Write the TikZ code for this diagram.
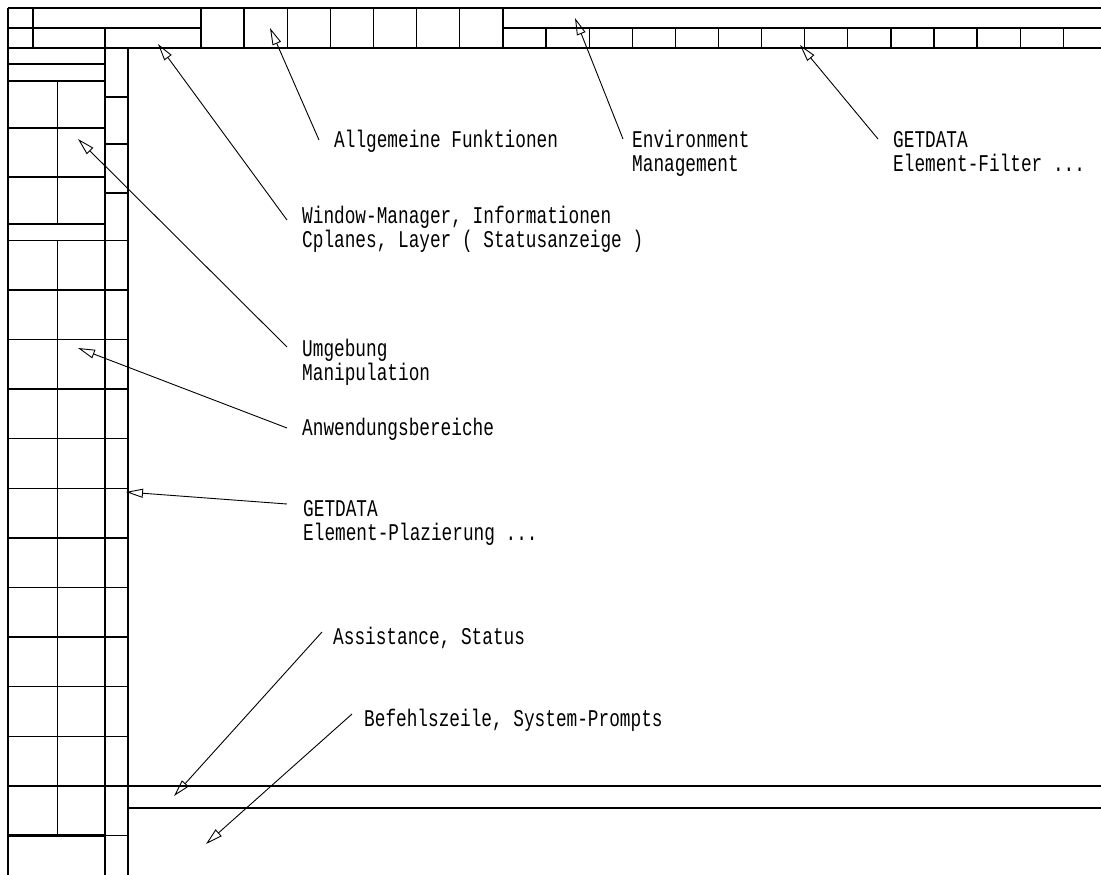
\documentclass[tikz,border=0pt]{standalone}
\usepackage{fontspec}
\newfontfamily\cadfont[FakeStretch=0.74]{Liberation Mono}
\usetikzlibrary{arrows.meta}
\tikzset{>={Triangle[open,length=17pt,width=9pt]}}
\tikzset{
  rahmen/.style={line width=2.2pt},
  feld/.style={line width=1.3pt},
  duenn/.style={line width=0.9pt},
  txt/.style={anchor=base west, inner sep=0pt, align=left,
    font=\cadfont\fontsize{24pt}{24pt}\selectfont},
  pfeil/.style={->, line width=0.9pt}
}

\begin{document}
\begin{tikzpicture}[x=1pt, y=-1pt]
    \useasboundingbox (0,0) rectangle (1101,875);

    % Kopfleiste
    \draw[rahmen] (8,8) -- (1101,8);
    \draw[rahmen] (8,48) -- (1101,48);
    \draw[feld] (8,28) -- (201,28);
    \draw[rahmen] (503,28) -- (1101,28);
    \draw[feld] (33,8) -- (33,48);
    \draw[feld] (105,28) -- (105,48);
    \draw[rahmen] (201,8) -- (201,48);
    \draw[rahmen] (503,8) -- (503,48);
    \draw[feld] (244.1,8) -- (244.1,48) (287.2,8) -- (287.2,48)
        (330.3,8) -- (330.3,48) (373.4,8) -- (373.4,48)
        (416.5,8) -- (416.5,48) (459.6,8) -- (459.6,48);
    \draw[feld] (546.1,28) -- (546.1,48) (589.2,28) -- (589.2,48)
        (632.3,28) -- (632.3,48) (675.4,28) -- (675.4,48)
        (718.5,28) -- (718.5,48) (761.6,28) -- (761.6,48)
        (804.7,28) -- (804.7,48) (847.8,28) -- (847.8,48)
        (890.9,28) -- (890.9,48) (934,28) -- (934,48)
        (977.1,28) -- (977.1,48) (1020.2,28) -- (1020.2,48)
        (1063.3,28) -- (1063.3,48);

    % linke Spalte
    \draw[rahmen] (8,8) -- (8,875);
    \draw[rahmen] (105,48) -- (105,875);
    \draw[rahmen] (128,48) -- (128,875);
    \draw[feld] (8,64) -- (105,64) (8,81) -- (105,81)
        (8,128) -- (105,128) (8,177) -- (105,177);
    \draw[rahmen] (8,224) -- (105,224);
    \draw[feld] (105,97) -- (128,97) (105,144) -- (128,144)
        (105,193) -- (128,193);
    \draw[duenn] (57,81) -- (57,224);
    \draw[duenn] (57,240) -- (57,836);
    \draw[feld] (8,240.3) -- (128,240.3) (8,289.9) -- (128,289.9)
        (8,339.5) -- (128,339.5) (8,389.1) -- (128,389.1)
        (8,438.7) -- (128,438.7) (8,488.3) -- (128,488.3)
        (8,537.9) -- (128,537.9) (8,587.5) -- (128,587.5)
        (8,637.1) -- (128,637.1) (8,686.7) -- (128,686.7)
        (8,736.3) -- (128,736.3) (8,785.9) -- (128,785.9);
    \draw[rahmen] (8,835.5) -- (105,835.5);
    \draw[duenn] (105,835.5) -- (128,835.5);

    % Befehlsbereich unten
    \draw[rahmen] (128,786) -- (1101,786);
    \draw[rahmen] (128,808) -- (1101,808);

    % Pfeilspitzen
    \coordinate (tFunk) at (270,28);
    \coordinate (tEnv) at (575,18);
    \coordinate (tFilter) at (800,45);
    \coordinate (tWin) at (158,44);
    \coordinate (tUmg) at (78,139);
    \coordinate (tAnw) at (78,348);
    \coordinate (tPlaz) at (126,492);
    \coordinate (tAssist) at (174,796);
    \coordinate (tBefehl) at (206,844);

    % Beschriftungen (base = letzte Zeile)
    \node[txt] (funk) at (334,147) {Allgemeine Funktionen};
    \node[txt] (env) at (632,171.5) {Environment\\Management};
    \node[txt] (filter) at (893,171.5) {GETDATA\\Element-Filter ...};
    \node[txt] (win) at (302,247.5) {Window-Manager, Informationen\\Cplanes, Layer ( Statusanzeige )};
    \node[txt] (umg) at (302,380) {Umgebung\\Manipulation};
    \node[txt] (anw) at (302,435) {Anwendungsbereiche};
    \node[txt] (plaz) at (303,540) {GETDATA\\Element-Plazierung ...};
    \node[txt] (assist) at (333,644) {Assistance, Status};
    \node[txt] (befehl) at (364,726) {Befehlszeile, System-Prompts};

    \draw[pfeil] ([shift={(-15,-7)}]funk.base west) -- (tFunk);
    \draw[pfeil] ([shift={(-9,-32.5)}]env.base west) -- (tEnv);
    \draw[pfeil] ([shift={(-15,-32.5)}]filter.base west) -- (tFilter);
    \draw[pfeil] ([shift={(-15,-27.5)}]win.base west) -- (tWin);
    \draw[pfeil] ([shift={(-15,-33)}]umg.base west) -- (tUmg);
    \draw[pfeil] ([shift={(-15,-7)}]anw.base west) -- (tAnw);
    \draw[pfeil] ([shift={(-16,-36)}]plaz.base west) -- (tPlaz);
    \draw[pfeil] ([shift={(-11,-12)}]assist.base west) -- (tAssist);
    \draw[pfeil] ([shift={(-12,-12)}]befehl.base west) -- (tBefehl);
\end{tikzpicture}
\end{document}
